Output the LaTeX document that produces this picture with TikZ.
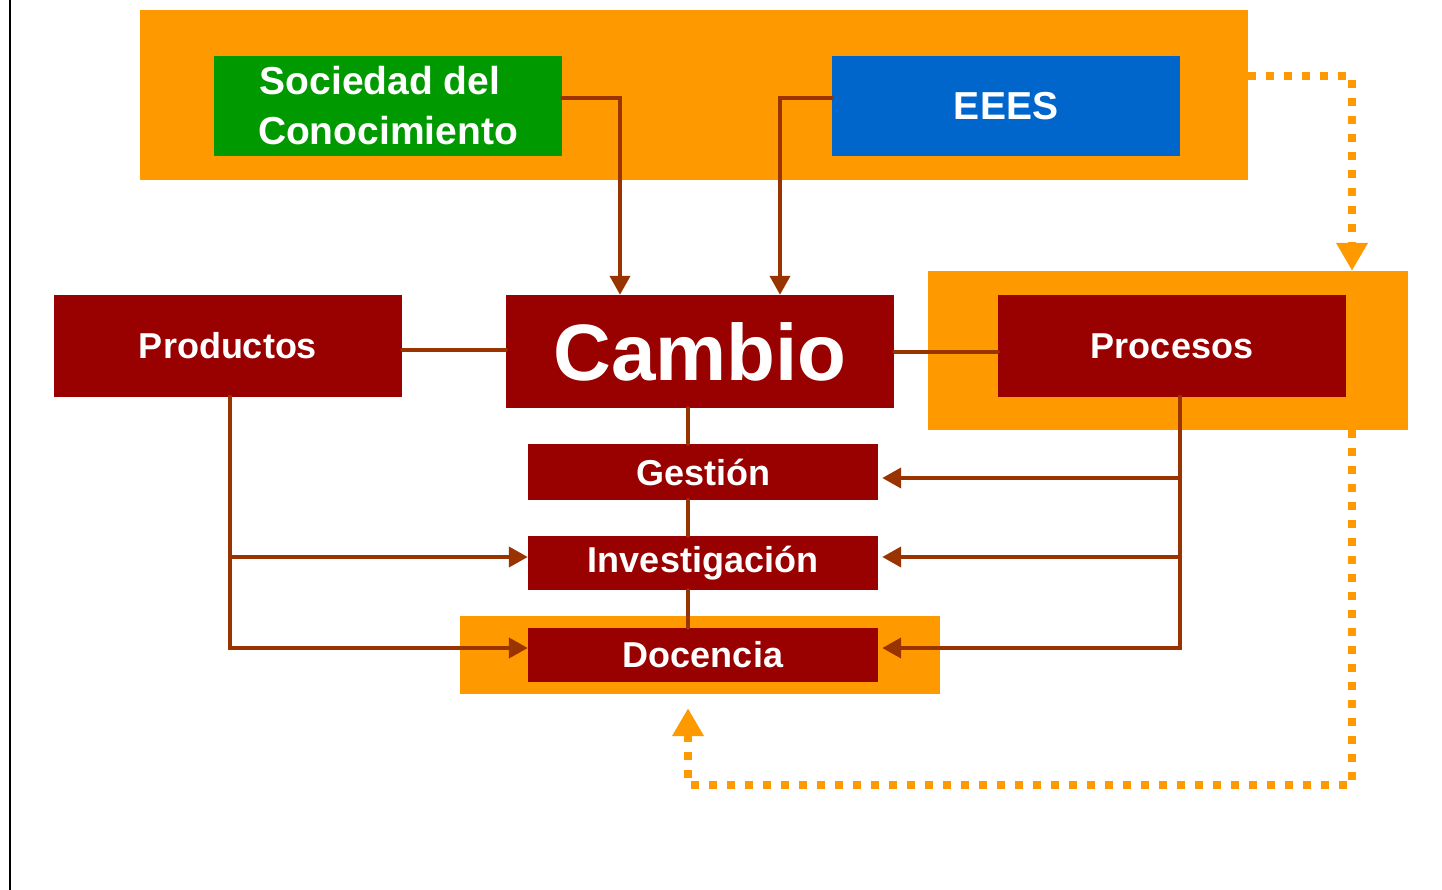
\documentclass[tikz,border=0pt]{standalone}
\usepackage{fontspec}
\setmainfont{Liberation Sans}
\usetikzlibrary{arrows.meta, calc}
\definecolor{naranja}{HTML}{FF9900}
\definecolor{granate}{HTML}{990000}
\definecolor{verde}{HTML}{009900}
\definecolor{azul}{HTML}{0066CC}
\definecolor{marron}{HTML}{993300}

\begin{document}
\begin{tikzpicture}[x=1pt, y=-1pt,
	caja/.style={fill=granate, text=white, font=\bfseries\fontsize{36}{40}\selectfont,
		inner sep=0pt, minimum width=348pt, minimum height=101pt, align=center},
	marco/.style={fill=naranja, inner sep=0pt},
	enlace/.style={draw=marron, line width=4pt, line cap=round},
	flecha/.style={enlace, -{Triangle[length=19pt, width=20pt]}},
	puntos/.style={draw=naranja, line width=8pt, dash pattern=on 8pt off 10pt,
		-{Triangle[length=28pt, width=30pt]}}]
	\useasboundingbox (0,0) rectangle (1442,890);
	\draw [line width=2pt] (10,0) -- (10,890);
	% marcos naranja
	\node [marco, minimum width=1108pt, minimum height=170pt] (marcoSup) at (694,95) {};
	\node [marco, minimum width=480pt, minimum height=159pt] (marcoProc) at (1168,350.5) {};
	\node [marco, minimum width=480pt, minimum height=78pt] (marcoDoc) at (700,655) {};
	% cajas
	\node [caja, fill=verde, minimum height=100pt, font=\bfseries\fontsize{39}{50}\selectfont]
		(sociedad) at (388,106) {Sociedad del\hspace*{16pt}\\Conocimiento};
	\node [caja, fill=azul, minimum height=100pt, font=\bfseries\fontsize{39}{50}\selectfont]
		(eees) at (1006,106) {EEES};
	\node [caja] (productos) at (228,346) {Productos};
	\node [caja, minimum width=388pt, minimum height=113pt, font=\bfseries\fontsize{80}{90}\selectfont]
		(cambio) at (700,351.5) {Cambio};
	\node [caja] (procesos) at (1172,346) {Procesos};
	\node [caja, minimum width=350pt, minimum height=56pt] (gestion) at (703,472) {Gestión};
	\node [caja, minimum width=350pt, minimum height=54pt] (investigacion) at (703,563) {Investigación};
	\node [caja, minimum width=350pt, minimum height=54pt] (docencia) at (703,655) {Docencia};
	% enlaces
	\draw [flecha] ([yshift=8pt]sociedad.east) -| ([xshift=-80pt]cambio.north);
	\draw [flecha] ([yshift=8pt]eees.west) -| ([xshift=80pt]cambio.north);
	\draw [enlace] ([yshift=-4pt]productos.east) -- ([yshift=-4pt]productos.east -| cambio.west);
	\draw [enlace] (cambio.east) -- (cambio.east -| procesos.west);
	\draw [enlace] ([xshift=-12pt]cambio.south) -- ([xshift=-15pt]gestion.north);
	\draw [enlace] ([xshift=-15pt]gestion.south) -- ([xshift=-15pt]investigacion.north);
	\draw [enlace] ([xshift=-15pt]investigacion.south) -- ([xshift=-15pt]docencia.north);
	\draw [flecha] ([xshift=2pt]productos.south) |- ([yshift=7pt]docencia.west);
	\draw [flecha] ([xshift=2pt]productos.south |- investigacion.west) ++(0,-6) -- ([yshift=6pt]investigacion.west);
	\draw [flecha] ([xshift=8pt]procesos.south) |- ([yshift=7pt, xshift=4pt]docencia.east);
	\draw [flecha] ([xshift=8pt]procesos.south |- investigacion.east) ++(0,-6) -- ([yshift=6pt, xshift=4pt]investigacion.east);
	\draw [flecha] ([xshift=8pt]procesos.south |- gestion.east) ++(0,6) -- ([yshift=-6pt, xshift=4pt]gestion.east);
	% lazo punteado
	\coordinate (giro) at (1352,785);
	\draw [puntos] ([yshift=19pt]marcoSup.east) -| ([xshift=184pt]marcoProc.north);
	\draw [puntos] ([xshift=184pt]marcoProc.south) -- (giro) -| ([xshift=-12pt, yshift=-14pt]marcoDoc.south);
\end{tikzpicture}
\end{document}
